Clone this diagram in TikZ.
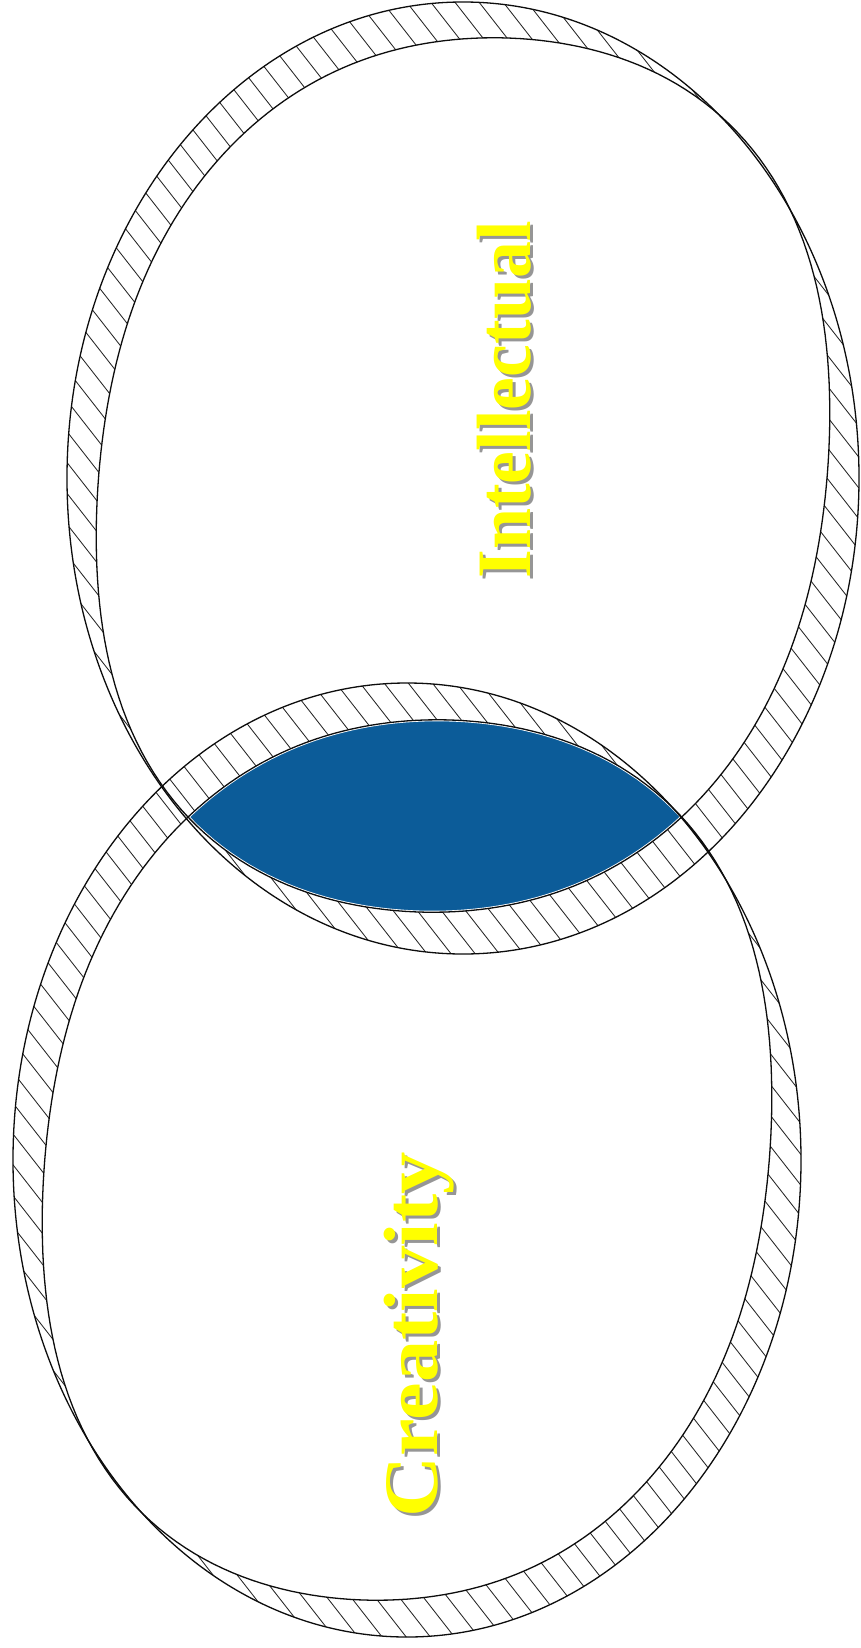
\documentclass[tikz,border=0pt]{standalone}
\usepackage{fontspec}
\setmainfont{Liberation Serif}
\definecolor{lensblue}{RGB}{12,92,153}
\definecolor{txtyellow}{RGB}{255,255,0}
\definecolor{shadowgray}{RGB}{150,150,150}
\begin{document}
\begin{tikzpicture}[x=1pt,y=-1pt,
  declare function={thk(\a)=38-41*(cos(\a-137)*cos(\a-137))^3;},
  ringline/.style={draw=black!95, line width=1.3pt},
  hatchline/.style={draw=black!85, line width=0.85pt},
  wordbase/.style={font=\fontsize{77}{80}\selectfont\bfseries, rotate=90, anchor=base, inner sep=0pt},
  wordtext/.style={wordbase, text=txtyellow},
  wordshadow/.style={wordbase, text=shadowgray}]
\def\outerT{(463,478) ellipse [x radius=396, y radius=476]}
\def\innerT{plot[domain=0:360,samples=241,variable=\x] ({463+(396-thk(\x))*cos(\x)},{475+(470-thk(\x))*sin(\x)}) -- cycle}
\def\outerC{(407,1160) ellipse [x radius=394, y radius=477]}
\def\innerC{plot[domain=0:360,samples=241,variable=\x] ({407+(394-thk(\x))*cos(\x)},{1160+(473-thk(\x))*sin(\x)}) -- cycle}
% background / bounding box
\fill[white] (0,0) rectangle (861,1648);
\useasboundingbox (0,0) rectangle (861,1648);
% hatching of top ring
\begin{scope}[even odd rule]
  \clip \outerT \innerT;
  \foreach \k in {-1030,-1011,...,700}
    \draw[hatchline] ({0.788*\k-123.2},{-0.616*\k-157.6}) -- ({0.788*\k+1232},{-0.616*\k+1576});
\end{scope}
% hatching of bottom ring
\begin{scope}[even odd rule]
  \clip \outerC \innerC;
  \foreach \k in {-1030,-1011,...,700}
    \draw[hatchline] ({0.788*\k-123.2},{-0.616*\k-157.6}) -- ({0.788*\k+1232},{-0.616*\k+1576});
\end{scope}
% blue lens
\begin{scope}
  \clip \innerT;
  \clip \innerC;
  \fill[lensblue] (0,0) rectangle (861,1648);
  \draw[white, line width=3pt] \innerC;
  \draw[white, line width=3pt] \innerT;
\end{scope}
% ring outlines
\draw[ringline] \outerT;
\draw[ringline] \innerT;
\draw[ringline] \outerC;
\draw[ringline] \innerC;
% words
\node[wordshadow] (intellectualshadow) at (533,403) {\scalebox{0.96}[1]{Intellectual}};
\node[wordtext] (intellectual) at (530,400) {\scalebox{0.96}[1]{Intellectual}};
\node[wordshadow] (creativityshadow) at (440,1338) {\scalebox{1.1}[1]{Creativity}};
\node[wordtext] (creativity) at (437,1335) {\scalebox{1.1}[1]{Creativity}};
\end{tikzpicture}
\end{document}
